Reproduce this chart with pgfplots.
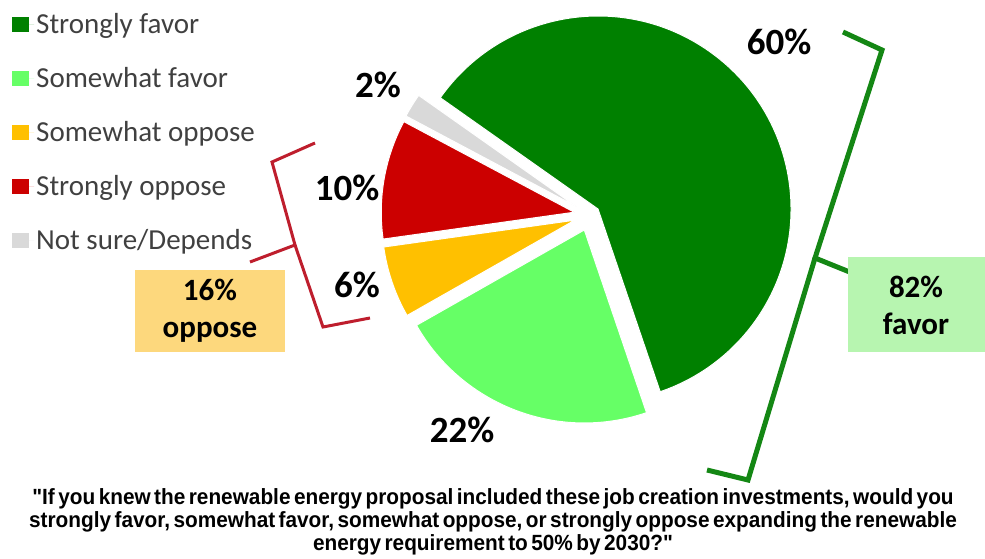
\documentclass[border=0pt]{standalone}
\usepackage{pgfplots}
\pgfplotsset{compat=1.18}
\usetikzlibrary{calc}
\usepackage{fontspec}
\setmainfont{Carlito}
\newfontfamily\qfont[FakeStretch=0.945, WordSpace=0.6]{Liberation Sans}

\definecolor{dgreen}{RGB}{0,128,0}
\definecolor{lgreen}{RGB}{102,255,102}
\definecolor{orng}{RGB}{255,192,0}
\definecolor{dred}{RGB}{204,0,0}
\definecolor{lgray}{RGB}{217,217,217}
\definecolor{bracered}{RGB}{190,30,45}
\definecolor{bracegreen}{RGB}{20,135,20}
\definecolor{boxorange}{RGB}{253,216,125}
\definecolor{boxgreen}{RGB}{183,245,176}

% shares (percent), clockwise from the start angle
\def\vA{60}% Strongly favor
\def\vB{22}% Somewhat favor
\def\vC{6}%  Somewhat oppose
\def\vD{10}% Strongly oppose
\def\vE{2}%  Not sure/Depends
\def\aS{144.8}
\pgfmathsetmacro\aA{\aS-\vA*3.6}
\pgfmathsetmacro\aB{\aA-\vB*3.6}
\pgfmathsetmacro\aC{\aB-\vC*3.6}
\pgfmathsetmacro\aD{\aC-\vD*3.6}
\pgfmathsetmacro\aE{\aD-\vE*3.6}
\pgfmathsetmacro\mA{(\aS+\aA)/2}
\pgfmathsetmacro\mB{(\aA+\aB)/2}
\pgfmathsetmacro\mC{(\aB+\aC)/2}
\pgfmathsetmacro\mD{(\aC+\aD)/2}
\pgfmathsetmacro\mE{(\aD+\aE)/2}
\def\R{193pt}

\pgfplotsset{sq legend/.style={legend image code/.code={\fill[##1] (0pt,-7.5pt) rectangle (17pt,7.5pt); \path (0pt,0pt) -- (22pt,0pt);}}}

\begin{document}
\begin{tikzpicture}
\begin{axis}[name=ax,
  x=1pt, y=1pt, xmin=0, xmax=985, ymin=0, ymax=558,
  hide axis, clip=false,
  legend style={at={(axis cs:12,547)}, anchor=north west, draw=none, fill=none,
    font=\fontsize{29}{32}\selectfont, row sep=28.5pt, inner sep=0pt,
    legend cell align=left},
]
\addlegendimage{sq legend, fill=dgreen, draw=none}
\addlegendentry{\textcolor{black!75}{Strongly favor}}
\addlegendimage{sq legend, fill=lgreen, draw=none}
\addlegendentry{\textcolor{black!75}{Somewhat favor}}
\addlegendimage{sq legend, fill=orng, draw=none}
\addlegendentry{\textcolor{black!75}{Somewhat oppose}}
\addlegendimage{sq legend, fill=dred, draw=none}
\addlegendentry{\textcolor{black!75}{Strongly oppose}}
\addlegendimage{sq legend, fill=lgray, draw=none}
\addlegendentry{\textcolor{black!75}{Not sure/Depends}}

% pie slices
\fill[dgreen, draw=white, line width=1pt] ($(axis cs:590,343)+(\mA:10pt)$) -- ++(\aS:\R) arc[start angle=\aS, end angle=\aA, radius=\R] -- cycle;
\fill[lgreen, draw=white, line width=1pt] ($(axis cs:590,343)+(\mB:16pt)$) -- ++(\aA:\R) arc[start angle=\aA, end angle=\aB, radius=\R] -- cycle;
\fill[orng, draw=white, line width=1pt] ($(axis cs:590,343)+(\mC:16pt)$) -- ++(\aB:\R) arc[start angle=\aB, end angle=\aC, radius=\R] -- cycle;
\fill[dred, draw=white, line width=1pt] ($(axis cs:590,343)+(\mD:16pt)$) -- ++(\aC:\R) arc[start angle=\aC, end angle=\aD, radius=\R] -- cycle;
\fill[lgray, draw=white, line width=1pt] ($(axis cs:590,343)+(\mE:16pt)$) -- ++(\aD:\R) arc[start angle=\aD, end angle=\aE, radius=\R] -- cycle;

% percentage labels
\node[font=\fontsize{37}{40}\selectfont\bfseries] at (axis cs:779,516) {60\%};
\node[font=\fontsize{37}{40}\selectfont\bfseries] at (axis cs:462,128) {22\%};
\node[font=\fontsize{37}{40}\selectfont\bfseries] at (axis cs:357,273) {6\%};
\node[font=\fontsize{37}{40}\selectfont\bfseries] at (axis cs:347,370) {10\%};
\node[font=\fontsize{37}{40}\selectfont\bfseries] at (axis cs:378,473) {2\%};

% braces
\draw[bracered, line width=3pt, line join=miter] (axis cs:315,415) -- (axis cs:272,396) -- (axis cs:295,313) -- (axis cs:250,296);
\draw[bracered, line width=3pt, line join=miter] (axis cs:295,313) -- (axis cs:323,231) -- (axis cs:370,240);
\draw[bracegreen, line width=5pt, line join=miter] (axis cs:843,526) -- (axis cs:882,508) -- (axis cs:815,300) -- (axis cs:857,283);
\draw[bracegreen, line width=5pt, line join=miter] (axis cs:815,300) -- (axis cs:748,78) -- (axis cs:707,88);

% summary boxes
\fill[boxorange] (axis cs:135,206) rectangle (axis cs:285,288);
\node[font=\fontsize{31}{37}\selectfont\bfseries, align=center] at (axis cs:210,247) {16\%\\oppose};
\fill[boxgreen] (axis cs:848,206) rectangle (axis cs:985,301);
\node[font=\fontsize{31}{37}\selectfont\bfseries, align=center] at (axis cs:916,253) {82\%\\favor};

% question
\begin{scope}[every node/.style={font=\qfont\bfseries\fontsize{22}{23}\selectfont, anchor=base, inner sep=0pt}]
\node at (axis cs:493,54) {"If you knew the renewable energy proposal included these job creation investments, would you};
\node at (axis cs:493,31) {strongly favor, somewhat favor, somewhat oppose, or strongly oppose expanding the renewable};
\node at (axis cs:493,8) {energy requirement to 50\% by 2030?"};
\end{scope}
\end{axis}
\pgfresetboundingbox
\path (ax.south west) rectangle (ax.north east);
\end{tikzpicture}
\end{document}
